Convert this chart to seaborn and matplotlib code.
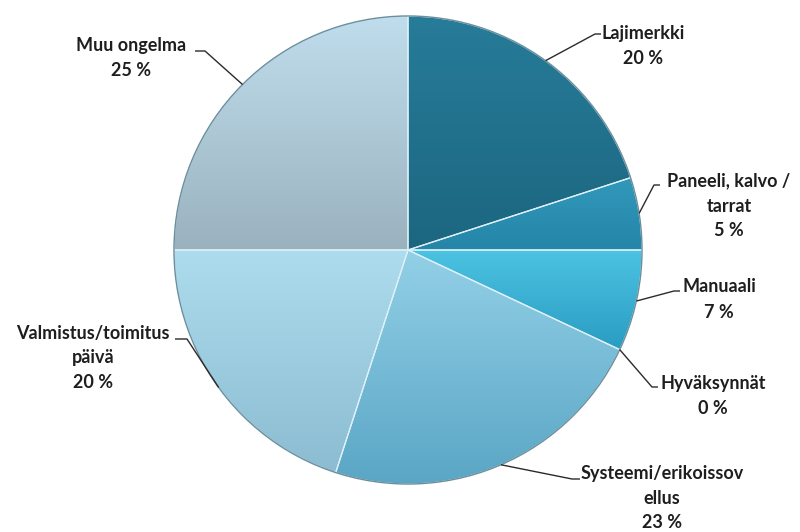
import unicodedata
import numpy as np
import matplotlib
matplotlib.use("Agg")
import matplotlib.pyplot as plt
import matplotlib.colors as mcolors
import seaborn as sns

# Survey answers: problem type and share of all cases (%)
categories = [
    "Lajimerkki",
    "Paneeli, kalvo /\ntarrat",
    "Manuaali",
    "Hyv\u00e4ksynn\u00e4t",
    "Systeemi/erikoissov\nellus",
    "Valmistus/toimitus\np\u00e4iv\u00e4",
    "Muu ongelma",
]
shares = [20, 5, 7, 0, 23, 20, 25]

# Slice shading: lighter tone at the top of each slice, deeper at the bottom
top_colors = ["#277c99", "#3299bb", "#4cc3e2", "#4cc3e2", "#93d0e7", "#addcee", "#c0dded"]
bottom_colors = ["#1c6680", "#2485a8", "#2a9cc2", "#2a9cc2", "#5aa6c5", "#8cbcd1", "#9ab2be"]

# Label layout (pixel coordinates, y measured from the top; first-line centre)
label_xy = [(643, 33), (729, 181), (719, 287), (713, 383), (662, 473), (93, 333), (131, 46)]
elbow_xy = [(595, 34), (654, 185), (674, 291), (652, 387), (572, 479), (187, 339), (205, 51)]
end_xy = [(601, 34), (660, 185), (680, 291), (658, 387), (580, 479), (175, 339), (195, 51)]
LINE_STEP = 25

W, H = 800, 532
CX, CY, R = 408, 250, 234
FS = 13


def py(y):
    return H - y


sns.set_theme(style="white")
plt.rcParams["font.family"] = ["Lato", "DejaVu Sans"]

fig = plt.figure(figsize=(8.0, 5.32), dpi=100)
ax = fig.add_axes([0, 0, 1, 1])

base = sns.color_palette(top_colors)
wedges, _ = ax.pie(
    shares,
    colors=base,
    startangle=90,
    counterclock=False,
    radius=R,
    center=(CX, py(CY)),
    wedgeprops=dict(edgecolor="#dff1f8", linewidth=0.9),
    frame=True,
)
ax.set_xlim(0, W)
ax.set_ylim(0, H)
ax.set_aspect("equal")
ax.axis("off")

# vertical gradient inside each slice
for w, c_top, c_bot in zip(wedges, top_colors, bottom_colors):
    t1, t2 = np.deg2rad(w.theta1), np.deg2rad(w.theta2)
    if abs(t2 - t1) < 1e-6:
        continue
    ang = np.linspace(t1, t2, 100)
    ys = np.concatenate([[py(CY)], py(CY) + R * np.sin(ang)])
    y0, y1 = ys.min(), ys.max()
    cmap = mcolors.LinearSegmentedColormap.from_list("g", [c_bot, c_top])
    grad = np.linspace(0, 1, 256).reshape(-1, 1)
    im = ax.imshow(grad, cmap=cmap, extent=[CX - R, CX + R, y0, y1],
                   origin="lower", aspect="auto", zorder=w.get_zorder() + 0.1,
                   interpolation="bilinear")
    im.set_clip_path(w)
    w.set_zorder(w.get_zorder() + 0.2)
    w.set_facecolor("none")
ax.set_xlim(0, W)
ax.set_ylim(0, H)

# soft outer rim
rim = plt.Circle((CX, py(CY)), R, fill=False, edgecolor="#6c8f9d", linewidth=1.0, zorder=5)
ax.add_patch(rim)

# leader lines and labels (each text line centred on its own)
for w, cat, val, lxy, exy, nxy in zip(wedges, categories, shares, label_xy, elbow_xy, end_xy):
    if abs(w.theta2 - w.theta1) < 1e-6:
        mid = w.theta1
    else:
        mid = (w.theta1 + w.theta2) / 2
    sx = CX + R * np.cos(np.deg2rad(mid))
    sy = py(CY) + R * np.sin(np.deg2rad(mid))
    ax.plot([sx, exy[0], nxy[0]], [sy, py(exy[1]), py(nxy[1])],
            color="#2b2b2b", linewidth=1.0, zorder=6, solid_capstyle="butt")
    lines = unicodedata.normalize("NFC", cat).split("\n") + [f"{val} %"]
    for i, line in enumerate(lines):
        ax.text(lxy[0], py(lxy[1] + i * LINE_STEP), line, ha="center", va="center",
                fontsize=FS, fontweight="bold", color="#1e1e1e", zorder=7,
                family="Lato")

fig.savefig("out.png", dpi=100)
